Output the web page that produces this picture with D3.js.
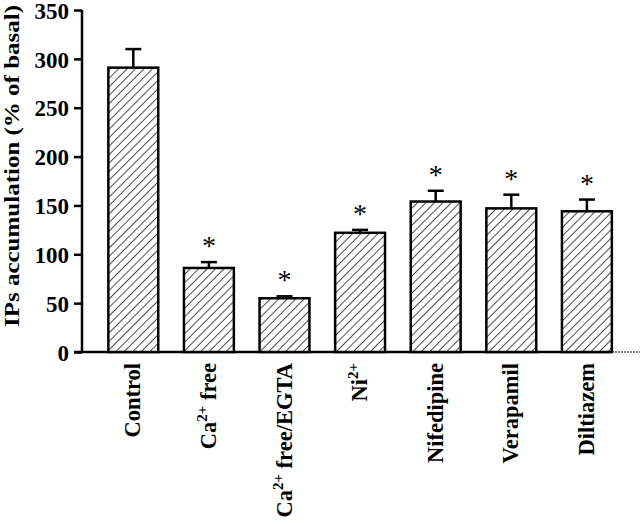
<!DOCTYPE html>
<html>
<head>
<meta charset="utf-8">
<script src="https://cdn.jsdelivr.net/npm/d3@7"></script>
<style>
  body { margin: 0; background: #fff; }
  text { font-family: "Liberation Serif", "DejaVu Serif", serif; font-weight: bold; }
</style>
</head>
<body>
<svg id="chart" width="640" height="526"></svg>
<script>
// data
const categories = ['Control', 'Ca free', 'Ca free/EGTA', 'Ni', 'Nifedipine', 'Verapamil', 'Diltiazem'];
const values = [291, 86, 55, 122, 154, 147, 144];
const errors = [19, 6, 2, 3, 11, 14, 12];
const significant = [false, true, true, true, true, true, true];
const yTicks = [0, 50, 100, 150, 200, 250, 300, 350];

const svg = d3.select('#chart');

const x = d3.scaleBand()
  .domain(categories)
  .range([95.5, 624.7])
  .paddingInner(0.34)
  .paddingOuter(0.17);

const y = d3.scaleLinear()
  .domain([0, 350])
  .range([352, 10]);

// hatch pattern
const defs = svg.append('defs');
const pat = defs.append('pattern')
  .attr('id', 'hatch')
  .attr('patternUnits', 'userSpaceOnUse')
  .attr('width', 6)
  .attr('height', 6)
  .attr('patternTransform', 'rotate(45)');
pat.append('rect').attr('width', 6).attr('height', 6).attr('fill', '#fff');
pat.append('line')
  .attr('x1', 0).attr('y1', 0).attr('x2', 0).attr('y2', 6)
  .attr('stroke', '#000').attr('stroke-width', 1.4);

// Y axis
const yAxis = svg.append('g')
  .attr('transform', 'translate(82,0)')
  .call(d3.axisLeft(y).tickValues(yTicks).tickSize(8).tickPadding(5));
yAxis.select('.domain').attr('stroke-width', 2.5).attr('d', `M0,${y(350)}V${y(0)}`);
yAxis.selectAll('.tick line').attr('stroke-width', 2.5);
yAxis.selectAll('.tick text')
  .style('font-size', '23px')
  .style('font-family', '"Liberation Serif", serif')
  .style('font-weight', 'bold')
  .attr('dy', '0.36em')
  .attr('fill', '#000');

// Y label
svg.append('text')
  .attr('transform', 'translate(19,166) rotate(-90)')
  .attr('text-anchor', 'middle')
  .attr('textLength', 322)
  .attr('lengthAdjust', 'spacingAndGlyphs')
  .style('font-size', '21px')
  .text('IPs accumulation (% of basal)');

// X axis line
svg.append('line')
  .attr('x1', 74).attr('x2', 612).attr('y1', y(0)).attr('y2', y(0))
  .attr('stroke', '#000').attr('stroke-width', 2.5);
svg.append('line')
  .attr('x1', 612).attr('x2', 640).attr('y1', y(0)).attr('y2', y(0))
  .attr('stroke', '#000').attr('stroke-width', 1.2).attr('stroke-dasharray', '2,1');

// error bars
const eb = svg.append('g');
categories.forEach((c, i) => {
  const cx = x(c) + x.bandwidth() / 2;
  eb.append('line')
    .attr('x1', cx).attr('x2', cx)
    .attr('y1', y(values[i])).attr('y2', y(values[i] + errors[i]))
    .attr('stroke', '#000').attr('stroke-width', 2.5);
  eb.append('line')
    .attr('x1', cx - 8).attr('x2', cx + 8)
    .attr('y1', y(values[i] + errors[i])).attr('y2', y(values[i] + errors[i]))
    .attr('stroke', '#000').attr('stroke-width', 2.5);
});

// bars
svg.append('g')
  .selectAll('rect')
  .data(categories)
  .enter()
  .append('rect')
  .attr('x', d => x(d))
  .attr('y', (d, i) => y(values[i]))
  .attr('width', x.bandwidth())
  .attr('height', (d, i) => y(0) - y(values[i]))
  .attr('fill', 'url(#hatch)')
  .attr('stroke', '#000')
  .attr('stroke-width', 2.5);

// asterisks
svg.append('g')
  .selectAll('text')
  .data(categories.filter((d, i) => significant[i]))
  .enter()
  .append('text')
  .attr('x', d => x(d) + x.bandwidth() / 2)
  .attr('y', d => {
    const i = categories.indexOf(d);
    return y(values[i] + errors[i]) - 7;
  })
  .attr('text-anchor', 'middle')
  .style('font-size', '28px')
  .style('font-weight', 'normal')
  .text('*');

// x labels (rotated), with superscripts
const labelParts = {
  'Control': [['Control', false]],
  'Ca free': [['Ca', false], ['2+', true], [' free', false]],
  'Ca free/EGTA': [['Ca', false], ['2+', true], [' free/EGTA', false]],
  'Ni': [['Ni', false], ['2+', true]],
  'Nifedipine': [['Nifedipine', false]],
  'Verapamil': [['Verapamil', false]],
  'Diltiazem': [['Diltiazem', false]]
};
const xl = svg.append('g');
categories.forEach(c => {
  const cx = x(c) + x.bandwidth() / 2;
  const t = xl.append('text')
    .attr('transform', `translate(${cx + 7},363) rotate(-90)`)
    .attr('text-anchor', 'end')
    .style('font-size', '22.5px');
  labelParts[c].forEach(([s, sup]) => {
    const ts = t.append('tspan').text(s);
    if (sup) ts.attr('dy', -9).style('font-size', '15px');
    else if (t.selectAll('tspan').size() > 1) ts.attr('dy', 9);
  });
});
</script>
</body>
</html>
